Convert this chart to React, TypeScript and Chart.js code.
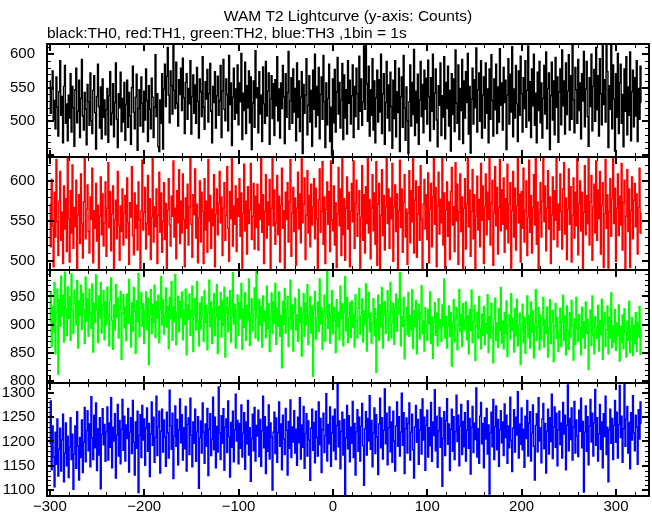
import { useEffect, useRef } from "react";
import { Chart, registerables } from "chart.js";

Chart.register(...registerables);

const TITLE = "WAM T2 Lightcurve (y-axis: Counts)";
const SUBTITLE = "black:TH0, red:TH1, green:TH2, blue:TH3 ,1bin = 1s";

// time of first bin (s) and bin width (s)
const T_START = -300;
const BIN_SEC = 1;

const X_TICKS = [-300, -200, -100, 0, 100, 200, 300];
const Y0_TICKS = [500, 550, 600];
const Y1_TICKS = [500, 550, 600];
const Y2_TICKS = [800, 850, 900, 950];
const Y3_TICKS = [1100, 1150, 1200, 1250, 1300];

// TH0 counts (black)
const TH0 = [
  560, 512, 548, 575, 503, 531, 489, 566, 521, 478, 544, 590, 509, 537, 468, 552, 583, 497, 526, 471,
  539, 505, 571, 484, 552, 520, 463, 547, 579, 498, 515, 561, 476, 534, 592, 508, 487, 543, 518, 465,
  555, 529, 494, 572, 501, 482, 546, 568, 513, 459, 537, 585, 522, 490, 551, 474, 563, 506, 532, 480,
  517, 549, 469, 538, 574, 495, 512, 556, 477, 528, 587, 503, 461, 541, 520, 573, 485, 534, 499, 558,
  472, 525, 561, 491, 543, 508, 466, 550, 582, 514, 489, 536, 570, 457, 519, 547, 493, 566, 527, 484,
  545, 502, 578, 531, 470, 553, 518, 489, 564, 536, 476, 521, 599, 507, 541, 462, 455, 532, 497, 571,
  459, 548, 585, 522, 567, 610, 539, 498, 575, 553, 511, 615, 546, 519, 588, 527, 493, 562, 540, 579,
  516, 594, 535, 482, 558, 571, 503, 549, 526, 590, 481, 537, 569, 512, 554, 497, 580, 530, 475, 563,
  544, 507, 596, 521, 488, 559, 533, 577, 499, 541, 586, 515, 468, 552, 528, 574, 490, 538, 567, 509,
  531, 583, 476, 545, 592, 518, 501, 563, 540, 486, 598, 525, 557, 464, 536, 579, 503, 548, 512, 584,
  495, 557, 529, 601, 473, 542, 516, 588, 482, 553, 520, 575, 498, 566, 458, 527, 560, 491, 605, 535,
  550, 483, 574, 511, 539, 470, 581, 526, 497, 589, 508, 545, 572, 466, 533, 568, 504, 556, 479, 562,
  523, 596, 501, 548, 475, 557, 519, 583, 537, 467, 571, 506, 543, 604, 488, 530, 565, 497, 578, 514,
  549, 471, 587, 506, 560, 485, 536, 574, 452, 555, 512, 539, 593, 480, 524, 568, 499, 546, 463, 576,
  518, 600, 492, 552, 509, 580, 474, 540, 566, 503, 598, 529, 461, 557, 495, 534, 585, 470, 521, 450,
  563, 498, 577, 484, 544, 595, 511, 558, 490, 532, 586, 473, 569, 505, 547, 481, 590, 527, 561, 496,
  538, 584, 476, 552, 507, 579, 541, 488, 597, 515, 563, 494, 529, 612, 518, 615, 556, 500, 582, 478,
  547, 509, 593, 487, 560, 468, 535, 576, 499, 562, 514, 600, 482, 541, 571, 466, 528, 589, 505, 554,
  486, 573, 522, 460, 561, 504, 590, 477, 544, 513, 579, 455, 537, 566, 491, 598, 520, 472, 551, 501,
  452, 529, 584, 493, 558, 510, 607, 479, 545, 498, 570, 466, 532, 589, 507, 555, 483, 576, 518, 564,
  496, 591, 537, 471, 565, 515, 600, 488, 542, 578, 502, 462, 553, 524, 587, 479, 538, 506, 596, 474,
  558, 519, 582, 493, 546, 456, 571, 510, 563, 485, 606, 527, 497, 584, 473, 549, 516, 592, 467, 560,
  505, 574, 528, 601, 481, 552, 453, 533, 579, 496, 562, 520, 609, 484, 547, 572, 500, 590, 475, 539,
  566, 490, 587, 512, 548, 468, 578, 503, 599, 531, 478, 563, 517, 585, 482, 551, 499, 608, 524, 557,
  487, 580, 528, 561, 458, 539, 593, 496, 570, 514, 611, 477, 548, 505, 583, 526, 470, 575, 509, 597,
  541, 484, 565, 519, 590, 491, 546, 612, 501, 559, 476, 578, 523, 600, 494, 542, 468, 573, 516, 589,
  498, 557, 475, 534, 583, 511, 603, 489, 549, 572, 458, 538, 588, 502, 560, 480, 595, 521, 566, 469,
  544, 578, 495, 606, 523, 560, 481, 587, 510, 545, 599, 487, 568, 503, 615, 532, 483, 580, 547, 497,
  592, 516, 557, 474, 571, 530, 604, 492, 548, 589, 507, 463, 565, 522, 600, 486, 552, 577, 500, 610,
  517, 568, 478, 593, 541, 495, 615, 525, 562, 499, 615, 574, 461, 553, 518, 615, 489, 584, 533, 456,
  571, 506, 601, 482, 557, 585, 497, 540, 462, 578, 515, 596, 480, 551, 509, 603, 471, 544, 576, 492,
  565, 508, 590, 470, 549, 503, 582, 528,
];

// TH1 counts (red)
const TH1 = [
  571, 518, 602, 544, 493, 586, 530, 627, 549, 507, 575, 612, 526, 561, 497, 594, 540, 578, 512, 630,
  553, 499, 588, 535, 620, 516, 567, 543, 601, 489, 558, 583, 522, 609, 547, 504, 574, 631, 528, 565,
  595, 537, 510, 580, 552, 616, 498, 563, 541, 597, 525, 570, 491, 556, 605, 533, 584, 519, 548, 599,
  506, 566, 623, 542, 587, 513, 559, 594, 489, 551, 576, 528, 612, 545, 501, 569, 537, 590, 520, 560,
  582, 529, 604, 548, 496, 573, 555, 618, 532, 508, 585, 541, 570, 514, 599, 552, 490, 563, 626, 539,
  561, 592, 515, 547, 607, 533, 578, 502, 555, 630, 524, 568, 543, 590, 497, 557, 611, 536, 585, 511,
  550, 598, 527, 572, 489, 564, 603, 545, 519, 581, 556, 625, 530, 566, 503, 588, 548, 614, 522, 575,
  535, 609, 552, 493, 579, 541, 596, 520, 568, 631, 546, 505, 583, 558, 615, 529, 571, 498, 554, 600,
  524, 586, 562, 497, 603, 539, 575, 511, 627, 550, 582, 516, 565, 544, 608, 493, 559, 590, 533, 572,
  612, 548, 580, 507, 566, 598, 526, 557, 618, 541, 500, 587, 553, 629, 519, 569, 546, 594, 512, 578,
  556, 603, 531, 585, 490, 560, 621, 538, 575, 509, 593, 547, 564, 622, 527, 556, 597, 515, 581, 542,
  596, 514, 571, 552, 630, 536, 583, 497, 562, 608, 529, 574, 545, 602, 489, 566, 631, 544, 589, 521,
  548, 607, 533, 581, 499, 570, 616, 541, 563, 490, 586, 552, 598, 524, 574, 627, 506, 560, 592, 537,
  579, 495, 566, 611, 540, 584, 523, 629, 548, 571, 604, 502, 557, 613, 535, 582, 518, 596, 545, 568,
  603, 528, 591, 553, 489, 577, 615, 536, 562, 624, 521, 580, 497, 565, 599, 546, 587, 512, 625, 551,
  538, 594, 520, 573, 492, 559, 617, 544, 590, 507, 630, 533, 578, 501, 566, 605, 540, 586, 493, 562,
  597, 549, 625, 516, 572, 601, 531, 559, 588, 490, 555, 619, 526, 583, 510, 593, 547, 631, 535, 577,
  503, 566, 608, 538, 585, 521, 624, 495, 571, 597, 489, 557, 614, 532, 582, 514, 568, 628, 547, 590,
  516, 579, 553, 622, 500, 568, 595, 537, 584, 491, 563, 626, 542, 590, 511, 574, 608, 530, 565, 496,
  560, 613, 523, 588, 549, 631, 510, 576, 600, 505, 559, 593, 526, 619, 552, 489, 571, 602, 540, 583,
  527, 610, 498, 565, 597, 518, 580, 628, 546, 592, 493, 569, 611, 534, 577, 548, 631, 520, 585, 489,
  564, 599, 531, 574, 502, 587, 617, 545, 568, 512, 623, 550, 596, 496, 561, 609, 537, 580, 490, 566,
  603, 515, 571, 630, 543, 589, 506, 562, 614, 528, 583, 489, 556, 606, 539, 577, 518, 622, 551, 594,
  497, 568, 609, 533, 586, 552, 631, 520, 573, 601, 495, 560, 618, 544, 592, 509, 567, 627, 538, 589,
  546, 604, 511, 578, 540, 621, 523, 571, 598, 489, 563, 612, 530, 591, 514, 569, 630, 548, 584, 499,
  587, 541, 616, 524, 563, 600, 507, 555, 626, 536, 582, 510, 567, 608, 545, 631, 521, 574, 489, 560,
  598, 530, 575, 628, 549, 594, 513, 566, 613, 540, 580, 497, 558, 605, 527, 588, 551, 630, 518, 571,
  539, 609, 562, 515, 590, 623, 534, 579, 502, 565, 615, 546, 593, 499, 557, 604, 529, 586, 544, 631,
  508, 572, 600, 538, 586, 490, 561, 619, 533, 582, 547, 631, 520, 574, 607, 501, 568, 596, 535, 625,
  526, 589, 553, 612, 509, 570, 598, 492, 559, 627, 541, 583, 490, 562, 603, 531, 578, 630, 547, 591,
  500, 566, 609, 532, 581, 545, 622, 514, 573, 601, 489, 556, 614, 537, 590, 492, 563, 605, 528, 576,
  597, 543, 584, 509, 567, 616, 535, 560,
];

// TH2 counts (green)
const TH2 = [
  905, 958, 861, 932, 887, 975, 848, 921, 963, 812, 944, 897, 986, 915, 952, 869, 993, 928, 880, 967,
  911, 949, 872, 990, 925, 884, 961, 937, 899, 978, 858, 942, 916, 970, 891, 955, 927, 866, 984, 906,
  946, 879, 963, 920, 893, 972, 851, 938, 904, 988, 926, 868, 951, 912, 975, 885, 934, 960, 873, 940,
  899, 967, 918, 862, 944, 983, 907, 856, 935, 890, 971, 913, 947, 876, 926, 959, 838, 921, 953, 894,
  931, 871, 954, 902, 980, 915, 860, 939, 888, 966, 923, 849, 942, 905, 991, 878, 929, 957, 897, 937,
  866, 924, 958, 891, 947, 829, 918, 962, 884, 936, 903, 970, 877, 941, 912, 952, 868, 926, 985, 899,
  944, 883, 919, 965, 896, 933, 857, 948, 910, 976, 872, 931, 905, 989, 864, 922, 950, 887, 941, 913,
  958, 873, 927, 900, 963, 846, 935, 909, 954, 881, 924, 968, 852, 917, 946, 890, 976, 906, 862, 938,
  892, 949, 915, 870, 960, 903, 934, 855, 921, 979, 896, 940, 866, 928, 955, 880, 913, 971, 849, 932,
  909, 957, 878, 943, 898, 966, 842, 920, 948, 887, 930, 960, 869, 914, 992, 901, 936, 858, 925, 952,
  881, 939, 910, 973, 856, 928, 895, 957, 872, 934, 907, 981, 863, 918, 946, 889, 927, 965, 876, 996,
  914, 871, 945, 899, 932, 860, 951, 906, 924, 877, 968, 893, 937, 852, 919, 956, 884, 940, 902, 973,
  865, 929, 897, 958, 879, 916, 823, 941, 900, 964, 885, 927, 950, 861, 911, 979, 892, 935, 853, 921,
  947, 890, 918, 870, 962, 903, 931, 844, 920, 955, 879, 938, 899, 971, 864, 916, 949, 885, 933, 808,
  926, 959, 874, 912, 940, 888, 981, 901, 930, 856, 923, 952, 870, 914, 995, 893, 936, 867, 918, 960,
  884, 931, 907, 850, 944, 896, 922, 873, 968, 910, 937, 862, 921, 985, 889, 948, 868, 912, 939, 877,
  942, 895, 918, 860, 953, 907, 876, 930, 964, 883, 915, 946, 869, 924, 899, 972, 853, 913, 957, 887,
  920, 867, 902, 946, 880, 928, 815, 909, 952, 872, 935, 896, 966, 858, 917, 941, 884, 923, 960, 871,
  911, 975, 876, 903, 938, 865, 929, 954, 888, 919, 945, 992, 862, 914, 897, 948, 839, 906, 931, 882,
  957, 879, 916, 890, 962, 857, 925, 896, 943, 848, 910, 936, 874, 921, 969, 884, 907, 853, 930, 898,
  872, 927, 901, 958, 866, 913, 840, 904, 939, 881, 920, 862, 946, 893, 909, 870, 935, 898, 981, 876,
  915, 858, 897, 933, 879, 921, 826, 903, 944, 869, 912, 930, 855, 899, 962, 887, 918, 861, 937, 890,
  908, 940, 873, 916, 848, 927, 889, 961, 868, 905, 934, 836, 897, 922, 875, 950, 893, 857, 919, 881,
  932, 864, 902, 885, 953, 850, 914, 876, 938, 895, 832, 910, 947, 871, 903, 859, 928, 889, 966, 867,
  906, 857, 921, 884, 942, 843, 898, 917, 874, 955, 889, 911, 851, 928, 880, 945, 862, 899, 920, 829,
  891, 936, 868, 913, 849, 903, 951, 877, 916, 858, 940, 886, 924, 841, 900, 962, 872, 895, 930, 855,
  917, 873, 899, 948, 860, 908, 884, 931, 842, 894, 944, 866, 903, 925, 834, 897, 937, 875, 912, 852,
  886, 929, 861, 904, 952, 871, 915, 846, 933, 888, 856, 921, 878, 943, 898, 837, 910, 865, 948, 893,
  870, 918, 895, 846, 931, 877, 905, 858, 940, 884, 909, 820, 899, 926, 863, 951, 881, 848, 914, 896,
  875, 934, 853, 907, 882, 945, 838, 900, 921, 861, 890, 933, 848, 913, 876, 956, 859, 898, 869, 927,
  854, 903, 880, 935, 835, 897, 868, 917, 857, 928, 886, 842, 906, 872, 941, 850, 893, 912, 845, 899,
  866, 921, 852, 904, 878, 932, 847, 890,
];

// TH3 counts (blue)
const TH3 = [
  1195, 1283, 1142, 1232, 1168, 1107, 1219, 1153, 1246, 1129, 1184, 1227, 1139, 1203, 1256, 1117, 1176, 1238, 1150, 1211,
  1126, 1188, 1249, 1163, 1215, 1102, 1174, 1232, 1145, 1261, 1190, 1121, 1208, 1167, 1244, 1136, 1199, 1270, 1158, 1222,
  1263, 1181, 1236, 1148, 1292, 1207, 1163, 1254, 1187, 1279, 1140, 1226, 1172, 1249, 1103, 1214, 1267, 1193, 1235, 1159,
  1220, 1271, 1162, 1238, 1188, 1290, 1146, 1229, 1201, 1257, 1125, 1213, 1276, 1170, 1243, 1154, 1225, 1286, 1182, 1252,
  1160, 1234, 1206, 1268, 1137, 1219, 1249, 1175, 1284, 1198, 1131, 1240, 1186, 1262, 1095, 1212, 1255, 1167, 1274, 1203,
  1246, 1151, 1227, 1269, 1180, 1237, 1128, 1216, 1281, 1192, 1250, 1157, 1208, 1293, 1171, 1230, 1262, 1135, 1221, 1266,
  1178, 1244, 1209, 1149, 1260, 1218, 1166, 1305, 1232, 1184, 1258, 1124, 1211, 1273, 1190, 1245, 1152, 1224, 1287, 1197,
  1255, 1162, 1228, 1185, 1272, 1139, 1235, 1248, 1173, 1289, 1213, 1148, 1240, 1196, 1266, 1159, 1220, 1251, 1104, 1207,
  1242, 1176, 1279, 1219, 1155, 1236, 1190, 1268, 1130, 1225, 1257, 1171, 1204, 1291, 1183, 1250, 1146, 1231, 1178, 1312,
  1218, 1163, 1253, 1196, 1267, 1141, 1229, 1246, 1177, 1283, 1210, 1127, 1239, 1188, 1262, 1158, 1224, 1297, 1201, 1243,
  1154, 1237, 1186, 1275, 1168, 1217, 1259, 1143, 1240, 1195, 1284, 1172, 1228, 1118, 1206, 1256, 1181, 1270, 1160, 1233,
  1211, 1264, 1169, 1245, 1149, 1222, 1293, 1187, 1251, 1134, 1230, 1180, 1275, 1164, 1238, 1209, 1100, 1219, 1260, 1175,
  1248, 1157, 1218, 1281, 1190, 1236, 1142, 1254, 1205, 1173, 1268, 1223, 1131, 1241, 1186, 1285, 1167, 1230, 1199, 1263,
  1176, 1225, 1151, 1250, 1197, 1290, 1164, 1234, 1188, 1272, 1145, 1216, 1257, 1170, 1242, 1203, 1120, 1227, 1266, 1182,
  1239, 1156, 1262, 1208, 1170, 1281, 1193, 1247, 1136, 1224, 1258, 1177, 1212, 1298, 1160, 1235, 1195, 1271, 1149, 1218,
  1252, 1181, 1266, 1163, 1233, 1318, 1189, 1242, 1144, 1221, 1260, 1172, 1245, 1086, 1207, 1274, 1185, 1253, 1158, 1229,
  1196, 1282, 1167, 1237, 1131, 1220, 1265, 1180, 1250, 1160, 1231, 1278, 1191, 1110, 1226, 1261, 1172, 1247, 1201, 1294,
  1184, 1243, 1148, 1218, 1269, 1175, 1255, 1209, 1132, 1236, 1289, 1187, 1249, 1164, 1223, 1308, 1195, 1258, 1152, 1228,
  1271, 1179, 1240, 1157, 1262, 1201, 1139, 1232, 1281, 1190, 1251, 1170, 1219, 1299, 1192, 1259, 1134, 1226, 1248, 1176,
  1237, 1279, 1162, 1219, 1256, 1183, 1125, 1230, 1274, 1198, 1245, 1153, 1223, 1265, 1174, 1287, 1203, 1250, 1141, 1233,
  1264, 1168, 1228, 1191, 1280, 1159, 1240, 1212, 1306, 1181, 1252, 1147, 1222, 1270, 1188, 1248, 1108, 1206, 1261, 1171,
  1243, 1288, 1194, 1236, 1140, 1225, 1266, 1180, 1251, 1163, 1220, 1295, 1200, 1254, 1150, 1231, 1276, 1173, 1241, 1189,
  1259, 1160, 1223, 1283, 1186, 1247, 1133, 1229, 1272, 1177, 1238, 1204, 1310, 1168, 1226, 1155, 1252, 1280, 1195, 1237,
  1146, 1249, 1205, 1268, 1174, 1234, 1092, 1218, 1260, 1189, 1286, 1163, 1230, 1273, 1183, 1245, 1149, 1224, 1263, 1197,
  1240, 1171, 1277, 1208, 1254, 1155, 1232, 1187, 1291, 1202, 1138, 1227, 1265, 1178, 1250, 1213, 1302, 1166, 1236, 1194,
  1269, 1183, 1225, 1147, 1252, 1206, 1284, 1170, 1238, 1261, 1160, 1217, 1275, 1190, 1121, 1233, 1257, 1179, 1290, 1201,
  1228, 1156, 1246, 1278, 1185, 1237, 1135, 1221, 1266, 1174, 1249, 1200, 1297, 1165, 1230, 1271, 1188, 1258, 1150, 1224,
  1262, 1193, 1238, 1166, 1280, 1215, 1254, 1142, 1233, 1316, 1181, 1247, 1204, 1269, 1162, 1229, 1282, 1176, 1244, 1211,
  1169, 1264, 1221, 1289, 1187, 1241, 1096, 1219, 1273, 1180, 1251, 1152, 1232, 1286, 1199, 1258, 1170, 1238, 1307, 1192,
  1249, 1160, 1216, 1276, 1184, 1240, 1146, 1257, 1210, 1293, 1173, 1229, 1117, 1223, 1266, 1196, 1247, 1163, 1233, 1284,
  1198, 1260, 1166, 1235, 1315, 1208, 1252, 1157, 1226, 1320, 1190, 1245, 1272, 1176, 1239, 1144, 1259, 1203, 1294, 1218,
  1181, 1254, 1229, 1153, 1265, 1205, 1281, 1237,
];

const SERIES = [TH0, TH1, TH2, TH3];
const COLORS = ["#000000", "#ff0000", "#00ff00", "#0000ff"];
const Y_IDS = ["y0", "y1", "y2", "y3"];
const Y_TICKS = [Y0_TICKS, Y1_TICKS, Y2_TICKS, Y3_TICKS];
const Y_RANGES: [number, number][] = [
  [447, 615],
  [489, 630],
  [796, 997],
  [1088, 1320],
];

const FONT = "'Liberation Sans', Arial, Helvetica, sans-serif";

const panelClip = {
  id: "panelClip",
  beforeDatasetDraw(chart: any, args: any) {
    const ds = chart.data.datasets[args.index];
    const ys = chart.scales[ds.yAxisID];
    const { left, right } = chart.chartArea;
    const ctx = chart.ctx;
    ctx.save();
    ctx.beginPath();
    ctx.rect(left, ys.top, right - left, ys.bottom - ys.top);
    ctx.clip();
  },
  afterDatasetDraw(chart: any) {
    chart.ctx.restore();
  },
};

const frame = {
  id: "frame",
  afterDraw(chart: any) {
    const ctx = chart.ctx;
    const { left, right, top, bottom } = chart.chartArea;
    const xs = chart.scales.x;
    const MAJ = 7;
    const MIN = 4;
    ctx.save();
    ctx.strokeStyle = "#000";
    const seg = (x1: number, y1: number, x2: number, y2: number, w: number) => {
      ctx.lineWidth = w;
      ctx.beginPath();
      ctx.moveTo(x1, y1);
      ctx.lineTo(x2, y2);
      ctx.stroke();
    };
    for (const id of Y_IDS) {
      const ys = chart.scales[id];
      for (let v = Math.ceil(ys.min / 10) * 10; v <= ys.max; v += 10) {
        const major = v % 50 === 0;
        const p = Math.round(ys.getPixelForValue(v)) + (major ? 0 : 0.5);
        const len = major ? MAJ : MIN;
        seg(left, p, left + len, p, major ? 2 : 1);
        seg(right - len, p, right, p, major ? 2 : 1);
      }
      for (let v = Math.ceil(xs.min / 20) * 20; v <= xs.max; v += 20) {
        const major = v % 100 === 0;
        const p = Math.round(xs.getPixelForValue(v)) + (major ? 0 : 0.5);
        const len = major ? MAJ : MIN;
        seg(p, ys.top, p, ys.top + len, major ? 2 : 1);
        seg(p, ys.bottom - len, p, ys.bottom, major ? 2 : 1);
      }
    }
    ctx.lineWidth = 2;
    ctx.strokeRect(left, top, right - left, bottom - top);
    for (let i = 0; i < Y_IDS.length - 1; i++) {
      const ys = chart.scales[Y_IDS[i]];
      seg(left, ys.bottom, right, ys.bottom, 2);
    }
    ctx.restore();
  },
};

function yScale(i: number) {
  const ticks = Y_TICKS[i];
  return {
    type: "linear",
    position: "left",
    stack: "panels",
    stackWeight: 1,
    weight: 10 - i,
    offset: false,
    min: Y_RANGES[i][0],
    max: Y_RANGES[i][1],
    grid: { display: false, drawTicks: false },
    border: { display: false },
    ticks: {
      color: "#000",
      padding: 12,
      autoSkip: false,
      font: { family: FONT, size: 15 },
      callback: (v: any) => String(v),
    },
    afterBuildTicks: (s: any) => {
      s.ticks = ticks.map((v) => ({ value: v }));
    },
    afterFit: (s: any) => {
      s.width = 47;
      s.paddingTop = 0;
      s.paddingBottom = 0;
    },
  };
}

export default function App() {
  const ref = useRef<HTMLCanvasElement>(null);
  useEffect(() => {
    const datasets = SERIES.map((arr, i) => ({
      data: arr.map((v, k) => ({ x: T_START + k * BIN_SEC, y: v })),
      yAxisID: Y_IDS[i],
      xAxisID: "x",
      borderColor: COLORS[i],
      borderWidth: 1.4,
      pointRadius: 0,
      stepped: "middle",
      fill: false,
      tension: 0,
    }));
    const chart = new Chart(ref.current as HTMLCanvasElement, {
      type: "line",
      data: { datasets } as any,
      plugins: [panelClip, frame],
      options: {
        animation: false,
        responsive: false,
        devicePixelRatio: 1,
        events: [],
        parsing: false,
        normalized: true,
        layout: { padding: { left: 0, right: 3, top: 0, bottom: 0 } },
        plugins: {
          legend: { display: false },
          tooltip: { enabled: false },
          title: {
            display: true,
            text: TITLE,
            fullSize: false,
            align: "center",
            color: "#000",
            font: { family: FONT, size: 15.5, weight: "normal", lineHeight: 1.1 },
            padding: { top: 8.5, bottom: 0 },
          },
          subtitle: {
            display: true,
            text: SUBTITLE,
            fullSize: false,
            align: "start",
            color: "#000",
            font: { family: FONT, size: 15.5, weight: "normal", lineHeight: 1.1 },
            padding: { top: 0, bottom: 1.4 },
          },
        },
        scales: {
          x: {
            type: "linear",
            position: "bottom",
            min: -303,
            max: 335,
            grid: { display: false, drawTicks: false },
            border: { display: false },
            ticks: {
              color: "#000",
              padding: 2,
              maxRotation: 0,
              autoSkip: false,
              font: { family: FONT, size: 15 },
              callback: (v: any) => (v < 0 ? "\u2212" + Math.abs(v) : String(v)),
            },
            afterBuildTicks: (s: any) => {
              s.ticks = X_TICKS.map((v) => ({ value: v }));
            },
            afterFit: (s: any) => {
              s.height = 19;
              s.paddingLeft = 0;
              s.paddingRight = 0;
            },
          },
          y0: yScale(0),
          y1: yScale(1),
          y2: yScale(2),
          y3: yScale(3),
        } as any,
      },
    } as any);
    return () => chart.destroy();
  }, []);
  return (
    <div
      style={{
        position: "fixed",
        left: 0,
        top: 0,
        width: 652,
        height: 515,
        background: "#fff",
      }}
    >
      <canvas
        ref={ref}
        width={652}
        height={515}
        style={{ display: "block", width: 652, height: 515 }}
      />
    </div>
  );
}
